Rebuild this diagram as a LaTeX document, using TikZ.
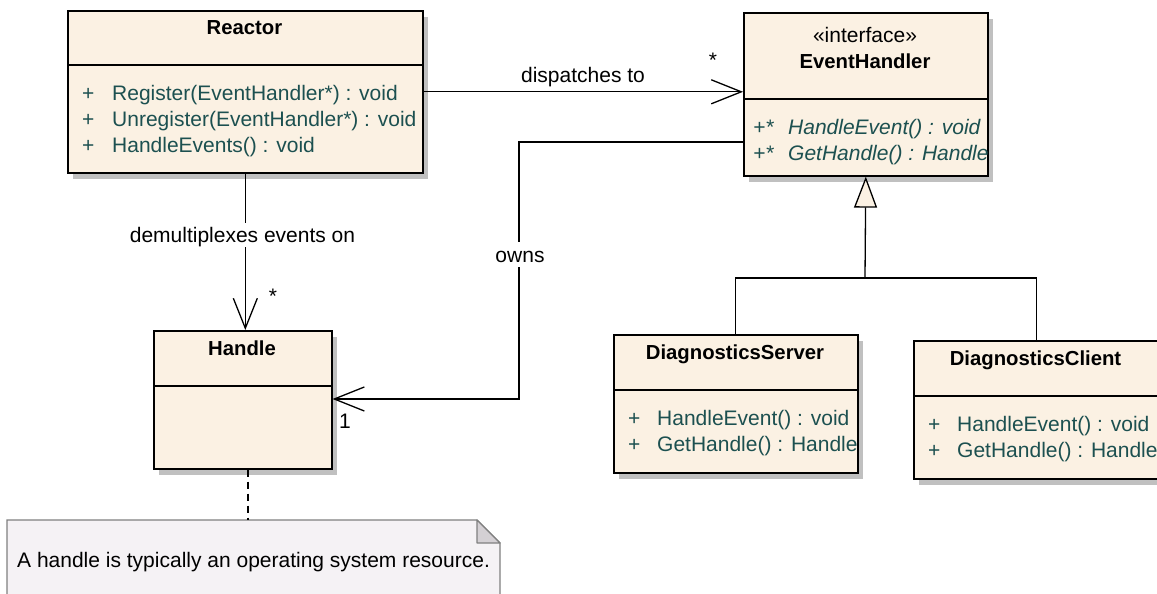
\documentclass[tikz,border=0pt]{standalone}
\usepackage{fontspec}
\setmainfont{Liberation Sans}
\usetikzlibrary{arrows.meta,shadows}
\definecolor{boxfill}{RGB}{251,241,227}
\definecolor{optext}{RGB}{28,80,80}
\definecolor{shadowgray}{RGB}{192,192,192}
\definecolor{notefill}{RGB}{245,242,245}
\definecolor{noteline}{RGB}{128,128,128}
\definecolor{notefold}{RGB}{212,208,212}
\begin{document}
\begin{tikzpicture}[x=1pt,y=-1pt,
  every node/.style={font=\fontsize{21}{25}\selectfont, inner sep=0pt},
  cls/.style={draw=black, line width=1.6pt, fill=boxfill, anchor=north west,
    general shadow={fill=shadowgray, shadow xshift=5pt, shadow yshift=-6pt}},
  divider/.style={line width=1.6pt},
  title/.style={anchor=base, font=\fontsize{20.3}{25}\selectfont\bfseries},
  op/.style={anchor=base west, text=optext},
  absop/.style={op, font=\fontsize{21}{25}\selectfont\itshape},
  conn/.style={line width=1.3pt},
  assoc/.style={conn, -{Straight Barb[length=30pt,width=24pt]}},
  lbl/.style={anchor=base},
  bglbl/.style={lbl, fill=white, text height=15pt, text depth=1pt, inner ysep=4pt, inner xsep=0pt},
]
\useasboundingbox (0,0) rectangle (1157,594);
\clip (0,0) rectangle (1157,594);
\fill[white] (0,0) rectangle (1157,594);

% class boxes
\node[cls, minimum width=355pt, minimum height=162pt] (reactor) at (67,10) {};
\node[cls, minimum width=244pt, minimum height=163pt] (eh) at (743,12) {};
\node[cls, minimum width=178pt, minimum height=138pt] (handle) at (153,330) {};
\node[cls, minimum width=244pt, minimum height=138pt] (srv) at (613,334) {};
\node[cls, minimum width=245pt, minimum height=138pt] (cli) at (913,340) {};

\draw[divider] (reactor.north west) ++(0,55) -- ++(355,0);
\draw[divider] (eh.north west) ++(0,87) -- ++(244,0);
\draw[divider] (handle.north west) ++(0,56) -- ++(178,0);
\draw[divider] (srv.north west) ++(0,56) -- ++(244,0);
\draw[divider] (cli.north west) ++(0,56) -- ++(245,0);

% Reactor
\node[title] (reactorT) at (244.5,35) {Reactor};
\node[op] (r1a) at (82,100) {+};
\node[op] (r1b) at (112,100) {Register(EventHandler*) : void};
\node[op] (r2a) at (82,126) {+};
\node[op] (r2b) at (112,126) {Unregister(EventHandler*) : void};
\node[op] (r3a) at (82,152) {+};
\node[op] (r3b) at (112,152) {HandleEvents() : void};

% EventHandler
\node[lbl] (ehS) at (865,43) {«interface»};
\node[title] (ehT) at (865,69) {EventHandler};
\node[absop] (e1a) at (753,134) {+*};
\node[absop] (e1b) at (788,134) {HandleEvent() : void};
\node[absop] (e2a) at (753,160) {+*};
\node[absop] (e2b) at (788,160) {GetHandle() : Handle};

% Handle
\node[title] (handleT) at (242,355) {Handle};

% DiagnosticsServer
\node[title] (srvT) at (735,359) {DiagnosticsServer};
\node[op] (s1a) at (628,425) {+};
\node[op] (s1b) at (657,425) {HandleEvent() : void};
\node[op] (s2a) at (628,451) {+};
\node[op] (s2b) at (657,451) {GetHandle() : Handle};

% DiagnosticsClient
\node[title] (cliT) at (1035.5,365) {DiagnosticsClient};
\node[op] (c1a) at (928,431) {+};
\node[op] (c1b) at (957,431) {HandleEvent() : void};
\node[op] (c2a) at (928,457) {+};
\node[op] (c2b) at (957,457) {GetHandle() : Handle};

% dispatches to
\draw[assoc] (reactor.east) -- (reactor.east -| eh.west);
\node[lbl] (dispL) at (583,82) {dispatches to};
\node[lbl] (dispM) at (713,68) {*};

% demultiplexes events on
\draw[assoc] (reactor.south) -- (reactor.south |- handle.north);
\node[bglbl] (demuxL) at (242.5,242) {demultiplexes events on};
\node[lbl] (demuxM) at (273,303) {*};

% owns
\coordinate (ownsA) at (519,142);
\coordinate (ownsB) at (519,399);
\draw[assoc] (ownsA -| eh.west) -- (ownsA) -- (ownsB) -- (ownsB -| handle.east);
\node[bglbl, text depth=0pt, inner ysep=5pt] (ownsL) at (520,262) {owns};
\node[lbl] (ownsM) at (345,428) {1};

% generalization
\coordinate (genJ) at (865,278);
\draw[conn] (srv.north) |- (genJ) -| (cli.north);
\draw[conn, -{Triangle[length=31pt,width=23pt,fill=boxfill]}] (genJ) -- (eh.south);

% note
\coordinate (noteTop) at (248,520);
\draw[noteline, line width=1.3pt, fill=notefill] (7,620) -- (7,520) -- (477,520) -- (500,543) -- (500,620);
\draw[noteline, line width=1.3pt, fill=notefold, line join=round] (477,520) -- (477,543) -- (500,543) -- cycle;
\node[anchor=base west] (noteT) at (17,567) {A handle is typically an operating system resource.};
\draw[conn, dash pattern=on 7pt off 5pt] (noteTop |- handle.south) -- (noteTop);
\end{tikzpicture}
\end{document}
